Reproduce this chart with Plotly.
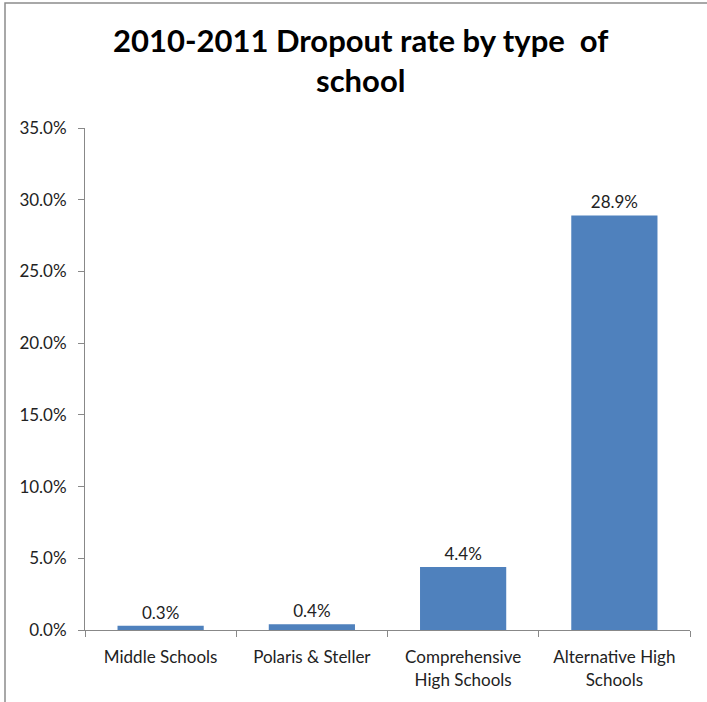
import plotly.graph_objects as go

categories = ["Middle Schools", "Polaris & Steller", "Comprehensive<br>High Schools", "Alternative High<br>Schools"]
rates = [0.3, 0.4, 4.4, 28.9]
tick_vals = [0, 5, 10, 15, 20, 25, 30, 35]
tick_text = ["0.0%", "5.0%", "10.0%", "15.0%", "20.0%", "25.0%", "30.0%", "35.0%"]
bar_labels = ["0.3%", "0.4%", "4.4%", "28.9%"]

W, H = 707, 702
ml, mr, mt, mb = 85, 17, 128, 72
pw, ph = W - ml - mr, H - mt - mb

fig = go.Figure(go.Bar(
    x=categories, y=rates, text=bar_labels, textposition="outside",
    textfont=dict(size=17, color="#222222", family="Lato, sans-serif"),
    marker=dict(color="#4F81BD", line=dict(width=0)),
    cliponaxis=False,
))

fig.update_layout(
    width=W, height=H,
    margin=dict(l=ml, r=mr, t=mt, b=mb, autoexpand=False),
    paper_bgcolor="white", plot_bgcolor="white",
    bargap=0.43,
    showlegend=False,
    font=dict(family="Lato, sans-serif", size=16, color="#222222"),
    xaxis=dict(
        showline=True, linecolor="#888888", linewidth=1,
        ticks="outside", ticklen=6, tickcolor="#888888",
        tickson="boundaries", showgrid=False,
        tickfont=dict(size=17), ticklabelstandoff=12,
    ),
    yaxis=dict(
        range=[0, 35], tickvals=tick_vals, ticktext=tick_text,
        showline=True, linecolor="#888888", linewidth=1,
        ticks="outside", ticklen=6, tickcolor="#888888",
        showgrid=False, zeroline=False,
        tickfont=dict(size=17), ticklabelstandoff=8,
    ),
    annotations=[dict(
        text="<b>2010-2011 Dropout rate by type  of<br>school</b>",
        xref="paper", yref="paper",
        x=(360 - ml) / pw, y=(H - 60 - mb) / ph,
        xanchor="center", yanchor="middle", showarrow=False,
        font=dict(size=31, color="black", family="Lato, sans-serif"),
    )],
    shapes=[dict(
        type="rect", xref="paper", yref="paper",
        x0=(5 - ml) / pw, x1=(W + 20 - ml) / pw,
        y0=-(mb + 20) / ph, y1=(H - 3 - mb) / ph,
        line=dict(color="#8c8c8c", width=1.5), fillcolor="rgba(0,0,0,0)",
        layer="above",
    )],
)

fig.write_html("out.html", config={"displayModeBar": False},
               post_script="document.body.style.margin='0';")
